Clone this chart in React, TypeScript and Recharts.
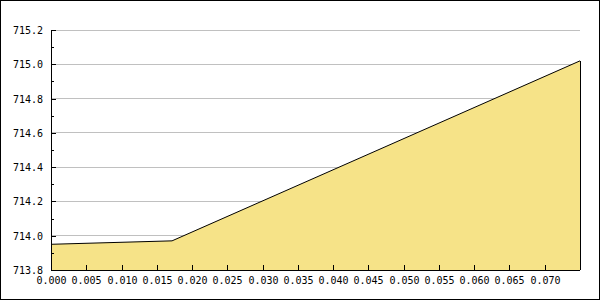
import { Area, CartesianGrid, ComposedChart, ReferenceLine, XAxis, YAxis } from "recharts";

const xValues = [0, 0.01716, 0.075];
const yValues = [713.95, 713.97, 715.02];
const xTicks = [0, 0.005, 0.01, 0.015, 0.02, 0.025, 0.03, 0.035, 0.04, 0.045, 0.05, 0.055, 0.06, 0.065, 0.07];
const yMajorTicks = [713.8, 714.0, 714.2, 714.4, 714.6, 714.8, 715.0, 715.2];
const yAllTicks = [713.8, 713.9, 714.0, 714.1, 714.2, 714.3, 714.4, 714.5, 714.6, 714.7, 714.8, 714.9, 715.0, 715.1, 715.2];

const data = xValues.map((x, i) => ({ x, y: yValues[i] }));
const fontFamily = "'DejaVu Sans Mono', monospace";

function YTick({ x, y, payload }: { x?: number; y?: number; payload?: { value: number } }) {
  const value = payload?.value ?? 0;
  const major = yMajorTicks.some((t) => Math.abs(t - value) < 1e-6);
  const px = Math.round(x ?? 0);
  const py = Math.round(y ?? 0) + 0.5;
  return (
    <g>
      <line x1={px} x2={px + (major ? 5 : 3)} y1={py} y2={py} stroke="#000" shapeRendering="crispEdges" />
      {major ? (
        <text x={px - 8} y={py} dy="0.35em" textAnchor="end" fontSize={10} fontFamily={fontFamily} fill="#000">
          {value.toFixed(1)}
        </text>
      ) : null}
    </g>
  );
}

function XTick({ x, y, payload }: { x?: number; y?: number; payload?: { value: number } }) {
  const value = payload?.value ?? 0;
  const px = Math.round(x ?? 0) + 0.5;
  const py = Math.round(y ?? 0);
  return (
    <g>
      <line x1={px} x2={px} y1={py - 5} y2={py} stroke="#000" shapeRendering="crispEdges" />
      <text x={px} y={py + 14} textAnchor="middle" fontSize={10} fontFamily={fontFamily} fill="#000">
        {value.toFixed(3)}
      </text>
    </g>
  );
}

export default function App() {
  const last = data[data.length - 1];
  return (
    <div
      style={{
        position: "fixed",
        left: 0,
        top: 0,
        width: 600,
        height: 300,
        boxSizing: "border-box",
        border: "1px solid #000",
        background: "#fff",
      }}
    >
      <div style={{ position: "absolute", left: -1, top: -1 }}>
        <ComposedChart width={600} height={300} data={data} margin={{ top: 30, right: 20, bottom: 0, left: 0 }}>
          <CartesianGrid
            vertical={false}
            horizontalValues={yMajorTicks.slice(1)}
            stroke="#c0c0c0"
            shapeRendering="crispEdges"
          />
          <XAxis
            dataKey="x"
            type="number"
            domain={[0, 0.075]}
            ticks={xTicks}
            allowDataOverflow
            height={30}
            tickSize={0}
            tickMargin={0}
            tickLine={false}
            axisLine={{ stroke: "#000", shapeRendering: "crispEdges" }}
            tick={<XTick />}
            interval={0}
          />
          <YAxis
            type="number"
            domain={[713.8, 715.2]}
            ticks={yAllTicks}
            allowDataOverflow
            width={51}
            tickSize={0}
            tickMargin={0}
            tickLine={false}
            axisLine={{ stroke: "#000", shapeRendering: "crispEdges" }}
            tick={<YTick />}
            interval={0}
          />
          <Area
            dataKey="y"
            type="linear"
            stroke="#000"
            strokeWidth={1}
            fill="#f6e388"
            fillOpacity={1}
            isAnimationActive={false}
            dot={false}
            activeDot={false}
          />
          <ReferenceLine
            segment={[
              { x: last.x, y: 713.8 },
              { x: last.x, y: last.y },
            ]}
            stroke="#000"
            shapeRendering="crispEdges"
          />
        </ComposedChart>
      </div>
    </div>
  );
}
